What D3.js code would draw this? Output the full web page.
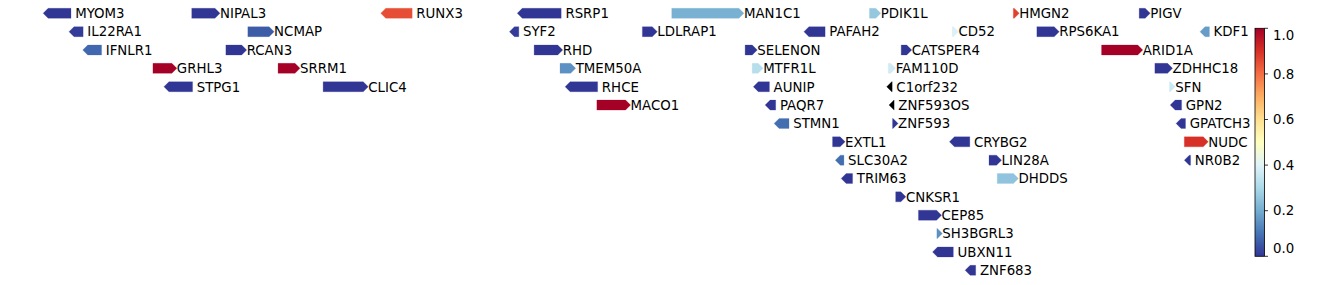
<!DOCTYPE html>
<html>
<head>
<meta charset="utf-8">
<script src="https://cdn.jsdelivr.net/npm/d3@7"></script>
<style>
  html, body { margin: 0; padding: 0; background: #fff; }
  text { font-family: "DejaVu Sans", sans-serif; }
</style>
</head>
<body>
<div id="chart"></div>
<script>
// Gene track: positions in kb, strand, score (null = no value), track row
const genes = [
  'MYOM3', 'NIPAL3', 'RUNX3', 'RSRP1', 'MAN1C1', 'PDIK1L', 'HMGN2', 'PIGV',
  'IL22RA1', 'NCMAP', 'SYF2', 'LDLRAP1', 'PAFAH2', 'CD52', 'RPS6KA1', 'KDF1',
  'IFNLR1', 'RCAN3', 'RHD', 'SELENON', 'CATSPER4', 'ARID1A',
  'GRHL3', 'SRRM1', 'TMEM50A', 'MTFR1L', 'FAM110D', 'ZDHHC18',
  'STPG1', 'CLIC4', 'RHCE', 'AUNIP', 'C1orf232', 'SFN',
  'MACO1', 'PAQR7', 'ZNF593OS', 'GPN2',
  'STMN1', 'ZNF593', 'GPATCH3',
  'EXTL1', 'CRYBG2', 'NUDC',
  'SLC30A2', 'LIN28A', 'NR0B2',
  'TRIM63', 'DHDDS',
  'CNKSR1', 'CEP85', 'SH3BGRL3', 'UBXN11', 'ZNF683'
];
const starts = [
  24059, 24438, 24920, 25268, 25662, 26166, 26533, 26854,
  24125, 24581, 25248, 25587, 25999, 26377, 26593, 27009,
  24160, 24525, 25311, 25849, 26247, 26758,
  24339, 24658, 25377, 25867, 26214, 26894,
  24367, 24773, 25390, 25870, 26210, 26931,
  25471, 25900, 26216, 26933,
  25923, 26225, 26948,
  26072, 26370, 26969,
  26079, 26471, 26969,
  26094, 26492,
  26233, 26291, 26338, 26327, 26410
];
const ends = [
  24130, 24510, 25000, 25380, 25846, 26195, 26548, 26882,
  24161, 24648, 25272, 25625, 26053, 26393, 26650, 27033,
  24208, 24578, 25384, 25880, 26274, 26863,
  24400, 24714, 25417, 25895, 26233, 26939,
  24440, 24888, 25473, 25911, 26224, 26946,
  25557, 25927, 26229, 26962,
  25961, 26239, 26972,
  26104, 26422, 27030,
  26101, 26503, 26985,
  26123, 26546,
  26259, 26350, 26352, 26380, 26437
];
const strands = [
  -1, 1, -1, -1, 1, 1, 1, 1,
  -1, 1, -1, 1, -1, 1, 1, -1,
  -1, 1, 1, 1, 1, 1,
  1, 1, 1, 1, 1, 1,
  -1, 1, -1, -1, -1, 1,
  1, -1, -1, -1,
  -1, 1, -1,
  1, -1, 1,
  -1, 1, -1,
  -1, 1,
  1, 1, 1, -1, -1
];
const scores = [
  0.0, 0.0, 0.85, 0.0, 0.21, 0.26, 0.87, 0.0,
  0.01, 0.06, 0.01, 0.0, 0.0, 0.39, 0.0, 0.17,
  0.08, 0.0, 0.0, 0.0, 0.0, 1.0,
  1.0, 1.0, 0.15, 0.32, 0.37, 0.0,
  0.0, 0.0, 0.0, 0.0, null, 0.36,
  1.0, 0.0, null, 0.0,
  0.09, 0.0, 0.0,
  0.0, 0.0, 0.9,
  0.09, 0.0, 0.0,
  0.0, 0.25,
  0.0, 0.0, 0.15, 0.0, 0.0
];
const tracks = [
  0, 0, 0, 0, 0, 0, 0, 0,
  1, 1, 1, 1, 1, 1, 1, 1,
  2, 2, 2, 2, 2, 2,
  3, 3, 3, 3, 3, 3,
  4, 4, 4, 4, 4, 4,
  5, 5, 5, 5,
  6, 6, 6,
  7, 7, 7,
  8, 8, 8,
  9, 9,
  10, 11, 12, 13, 14
];
const colorTicks = [0, 0.2, 0.4, 0.6, 0.8, 1.0];

// RdYlBu reversed, matplotlib-style linear segments
const PALETTE = ['#313695', '#4575b4', '#74add1', '#abd9e9', '#e0f3f8', '#ffffbf',
                 '#fee090', '#fdae61', '#f46d43', '#d73027', '#a50026'];

const width = 1338;
const height = 285;

const svg = d3.select('#chart')
  .append('svg')
  .attr('width', width)
  .attr('height', height);

const x = d3.scaleLinear()
  .domain([24000, 27000])
  .range([20, 20 + 3000 / 2.55]);

const y = d3.scaleLinear()
  .domain([0, 14])
  .range([13.3, 270.3]);

const color = d3.scaleLinear()
  .domain(d3.range(PALETTE.length).map(i => i / (PALETTE.length - 1)))
  .range(PALETTE)
  .clamp(true);

const arrowH = 10;
const headLen = 5;

function arrowPath(x0, x1, cy, strand) {
  const h = arrowH / 2;
  const len = x1 - x0;
  const hl = Math.min(headLen, len);
  if (strand > 0) {
    return `M${x0},${cy - h}L${x1 - hl},${cy - h}L${x1},${cy}L${x1 - hl},${cy + h}L${x0},${cy + h}Z`;
  }
  return `M${x1},${cy - h}L${x0 + hl},${cy - h}L${x0},${cy}L${x0 + hl},${cy + h}L${x1},${cy + h}Z`;
}

const rows = genes.map((g, i) => ({
  name: g, start: starts[i], end: ends[i], strand: strands[i],
  score: scores[i], track: tracks[i]
}));

const g = svg.append('g').attr('class', 'genes');

rows.forEach(d => {
  const fill = d.score === null ? '#000' : color(d.score);
  const x0 = x(d.start);
  const x1 = x(d.end);
  const cy = y(d.track);

  g.append('path')
    .attr('d', arrowPath(x0, x1, cy, d.strand))
    .attr('fill', fill)
    .attr('stroke', fill)
    .attr('stroke-opacity', 0.3)
    .attr('stroke-width', 0.8);

  g.append('text')
    .attr('x', x1 + (d.strand > 0 ? 0 : 4.2))
    .attr('y', cy)
    .attr('dy', '0.36em')
    .attr('font-size', '13.33px')
    .attr('fill', '#000')
    .text(d.name);
});

// Colorbar
const cbX = 1255;
const cbW = 9.5;
const cbTop = 28.3;
const cbBottom = 256.3;

const cbScale = d3.scaleLinear()
  .domain([0, 1])
  .range([cbBottom, cbTop]);

const defs = svg.append('defs');
const grad = defs.append('linearGradient')
  .attr('id', 'cbgrad')
  .attr('x1', 0).attr('y1', 1)
  .attr('x2', 0).attr('y2', 0);
PALETTE.forEach((c, i) => {
  grad.append('stop')
    .attr('offset', `${(i / (PALETTE.length - 1)) * 100}%`)
    .attr('stop-color', c);
});

svg.append('rect')
  .attr('x', cbX)
  .attr('y', cbTop)
  .attr('width', cbW)
  .attr('height', cbBottom - cbTop)
  .attr('fill', 'url(#cbgrad)')
  .attr('stroke', '#000')
  .attr('stroke-width', 0.8);

const cbAxis = svg.append('g').attr('class', 'cb-axis');
colorTicks.forEach(t => {
  const ty = cbScale(t);
  cbAxis.append('line')
    .attr('x1', cbX + cbW)
    .attr('x2', cbX + cbW + 3.5)
    .attr('y1', ty)
    .attr('y2', ty)
    .attr('stroke', '#000')
    .attr('stroke-width', 0.8);

  // end labels are kept inside the bar's extent
  const ly = Math.max(cbTop + 7, Math.min(cbBottom - 8.5, ty));
  cbAxis.append('text')
    .attr('x', cbX + cbW + 8.5)
    .attr('y', ly)
    .attr('dy', '0.36em')
    .attr('font-size', '13.33px')
    .attr('fill', '#000')
    .text(d3.format('.1f')(t));
});
</script>
</body>
</html>
